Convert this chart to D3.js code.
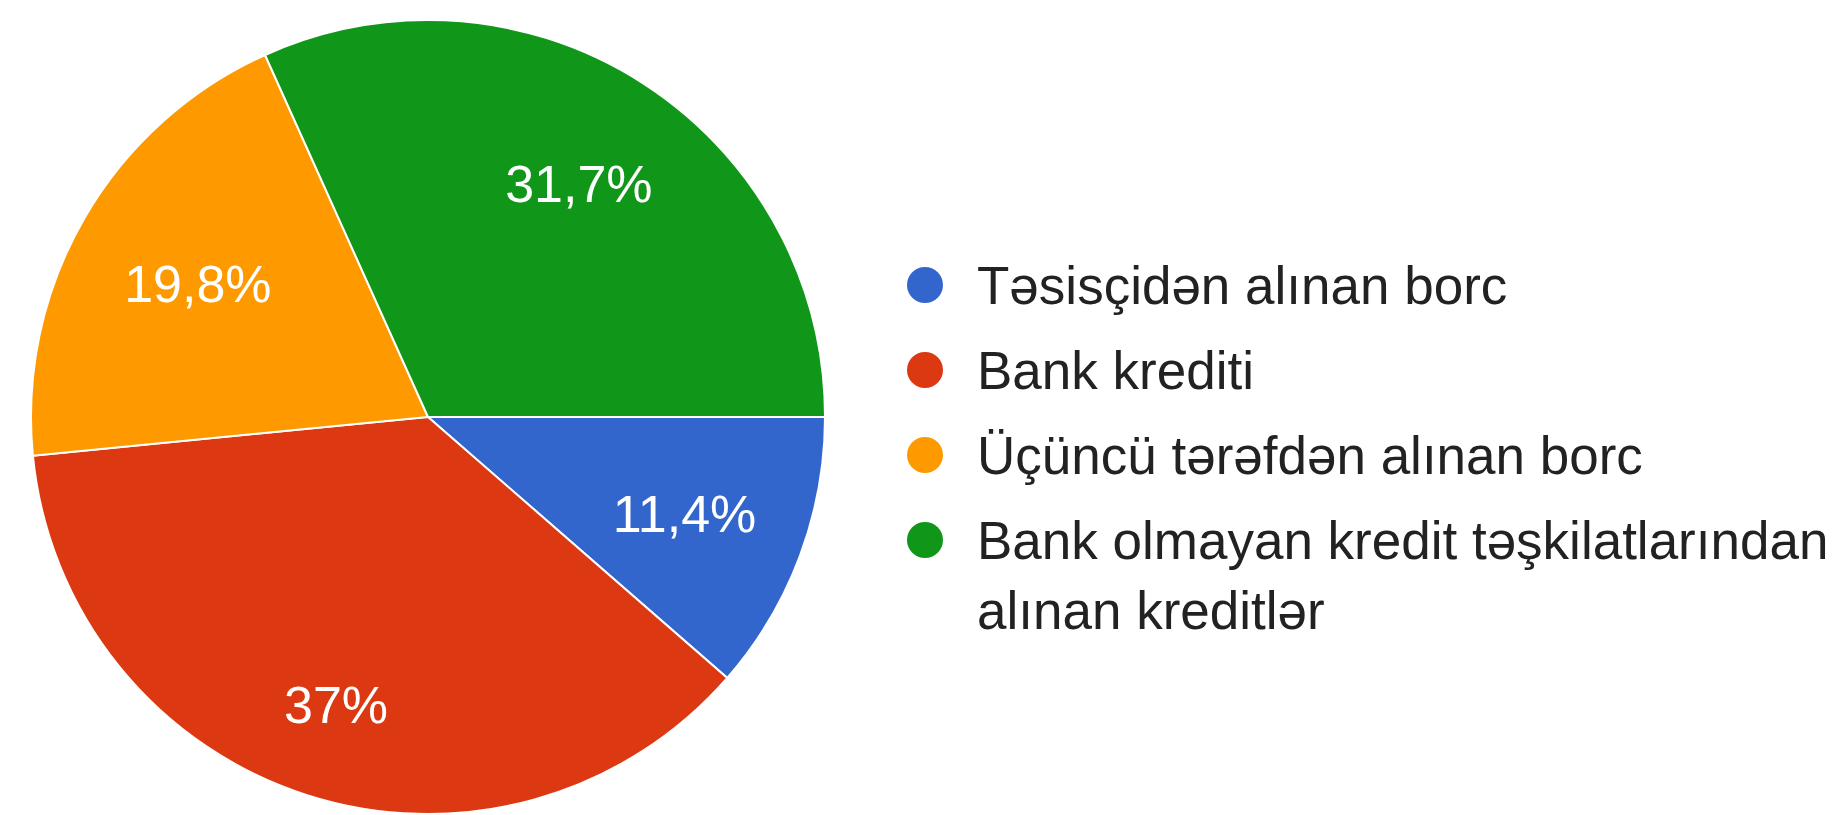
<!DOCTYPE html>
<html>
<head>
<meta charset="utf-8">
<script src="https://cdn.jsdelivr.net/npm/d3@7/dist/d3.min.js"></script>
<style>
  html, body { margin: 0; padding: 0; background: #ffffff; }
  svg { display: block; }
</style>
</head>
<body>
<svg id="chart" width="1843" height="815"></svg>
<script>
// ---- data ----
const categories = [
  "Təsisçidən alınan borc",
  "Bank krediti",
  "Üçüncü tərəfdən alınan borc",
  "Bank olmayan kredit təşkilatlarından alınan kreditlər"
];
const values = [11.4, 37, 19.8, 31.7];
const percentLabels = ["11,4%", "37%", "19,8%", "31,7%"];
const colors = ["#3366cc", "#dc3912", "#ff9900", "#109618"];

// ---- layout ----
const W = 1843, H = 815;
const cx = 428, cy = 417, R = 397;
// label distance from centre, as a fraction of the radius (layout only)
const labelRadiusFactor = [0.69, 0.76, 0.67, 0.70];

const svg = d3.select("#chart");
const g = svg.append("g").attr("transform", `translate(${cx},${cy})`);

const pie = d3.pie()
  .value(d => d)
  .sort(null)
  .startAngle(Math.PI / 2)
  .endAngle(Math.PI / 2 + 2 * Math.PI);

const arcs = pie(values);
const arc = d3.arc().innerRadius(0).outerRadius(R);

g.selectAll("path.slice")
  .data(arcs)
  .join("path")
  .attr("class", "slice")
  .attr("d", arc)
  .attr("fill", (d, i) => colors[i])
  .attr("stroke", "#ffffff")
  .attr("stroke-width", 2);

g.selectAll("text.pct")
  .data(arcs)
  .join("text")
  .attr("class", "pct")
  .attr("transform", (d, i) => {
    const r = R * labelRadiusFactor[i];
    const la = d3.arc().innerRadius(r).outerRadius(r);
    return `translate(${la.centroid(d)})`;
  })
  .attr("text-anchor", "middle")
  .attr("dy", "0.36em")
  .attr("font-family", "Arial, 'Liberation Sans', sans-serif")
  .attr("font-size", 52)
  .attr("fill", "#ffffff")
  .text((d, i) => percentLabels[i]);

// ---- legend ----
const legX = 925, legY0 = 285, legStep = 85, legR = 18, textX = 977;
const lineH = 70, fontSize = 53, maxW = W - textX + 2;

const leg = svg.append("g");
let y = legY0;
categories.forEach((name, i) => {
  leg.append("circle")
    .attr("cx", legX).attr("cy", y).attr("r", legR)
    .attr("fill", colors[i]);
  const t = leg.append("text")
    .attr("x", textX).attr("y", y)
    .attr("dy", "0.36em")
    .attr("font-family", "Arial, 'Liberation Sans', sans-serif")
    .attr("font-size", fontSize)
    .attr("fill", "#222222");
  // simple word wrap
  const words = name.split(" ");
  let line = [];
  let tspan = t.append("tspan").attr("x", textX);
  let lines = 1;
  words.forEach(w => {
    line.push(w);
    tspan.text(line.join(" "));
    if (tspan.node().getComputedTextLength() > maxW && line.length > 1) {
      line.pop();
      tspan.text(line.join(" "));
      line = [w];
      tspan = t.append("tspan").attr("x", textX).attr("dy", lineH).text(w);
      lines++;
    }
  });
  y += legStep + (lines - 1) * lineH;
});
</script>
</body>
</html>
